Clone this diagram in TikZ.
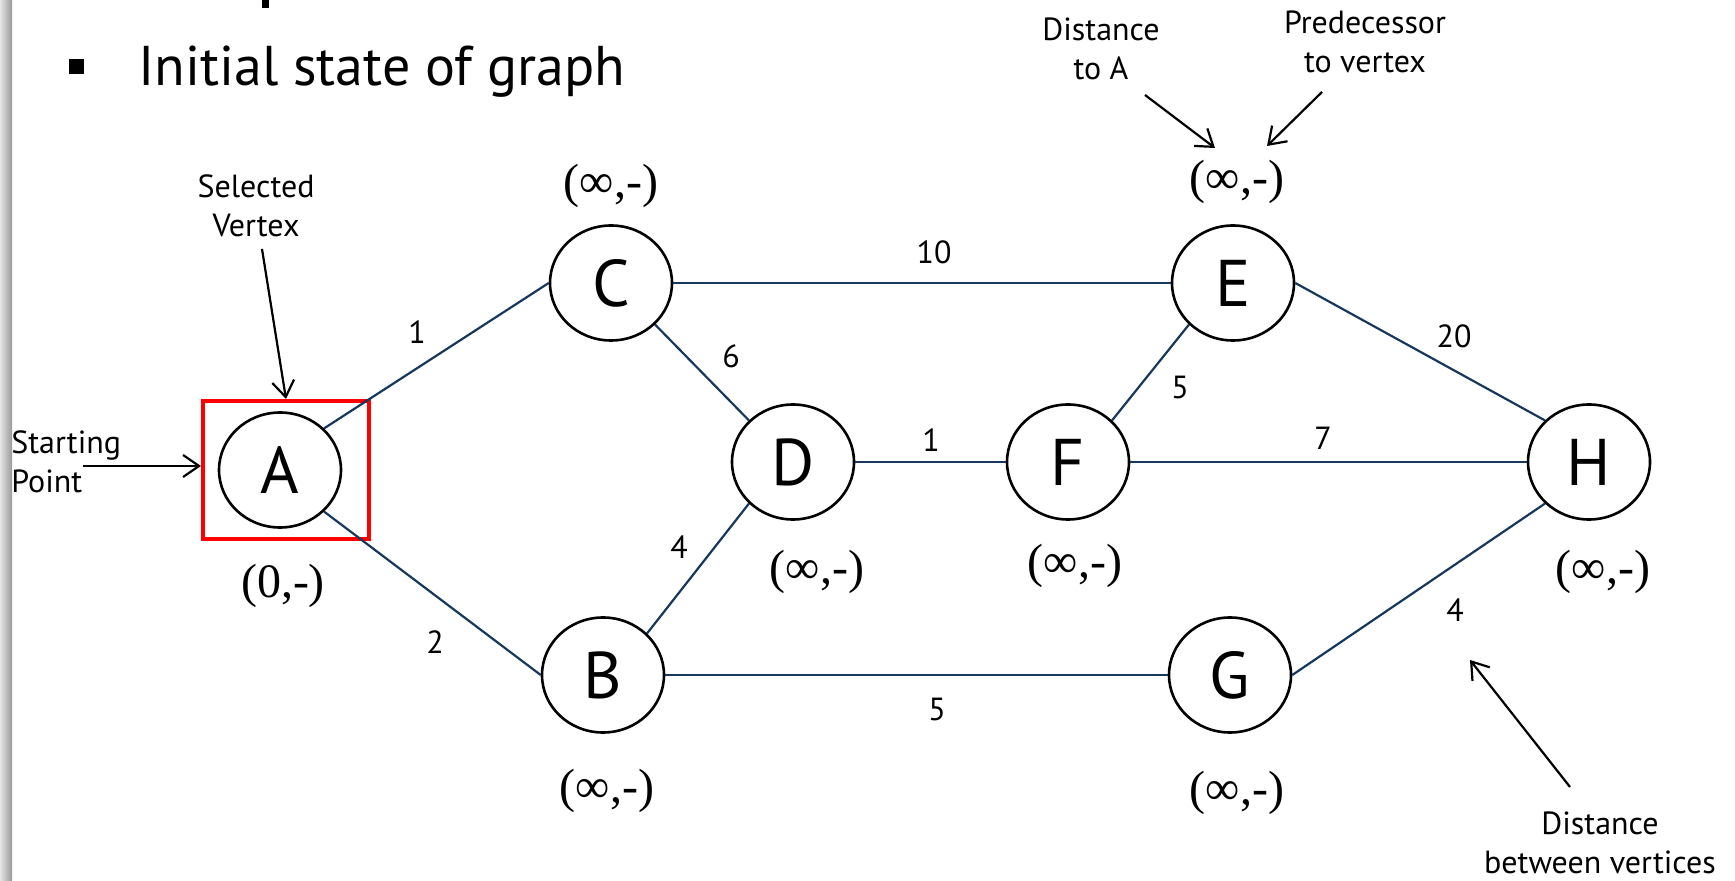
\documentclass[tikz,border=0pt]{standalone}
\usepackage{fontspec}
\setmainfont{PT Sans}
\newfontfamily\lblfont{Liberation Serif}
\usetikzlibrary{shapes.geometric,arrows.meta}
\definecolor{edgeblue}{HTML}{17375E}
\begin{document}
\begin{tikzpicture}[x=0.5pt,y=-0.5pt,
  vertex/.style={draw, line width=1.3pt, ellipse, minimum width=61pt, minimum height=57.5pt, inner sep=0pt, font=\fontsize{33}{40}\selectfont},
  weight/.style={inner sep=0pt, font=\fontsize{16}{19}\selectfont},
  dist/.style={inner sep=0pt, font=\lblfont\fontsize{24}{28}\selectfont},
  note/.style={inner sep=0pt, align=center, font=\fontsize{16}{19.5}\selectfont},
  pointer/.style={line width=1.1pt, -{Straight Barb[length=8pt,width=11pt]}},
  link/.style={edgeblue, line width=1.1pt}]
\useasboundingbox (0,0) rectangle (1735,881);
% left bar
\shade[left color=black!10, right color=black!40] (0,0) rectangle (12,881);
% fragment of cut-off line above
\fill (262,0) rectangle (269,8);
% title
\fill (69,59) rectangle (84,74);
\node[anchor=base west, inner sep=0pt, font=\fontsize{28}{34}\selectfont] (title) at (138,86) {Initial state of graph};

% selection box
\node[draw=red, line width=2pt, minimum width=83pt, minimum height=69pt, inner sep=0pt] (selbox) at (286,470) {};

% vertices
\node[vertex] (A) at (280,470) {A};
\node[vertex] (C) at (611,283) {C};
\node[vertex] (E) at (1233,283) {E};
\node[vertex] (D) at (793,462) {D};
\node[vertex] (F) at (1068,462) {F};
\node[vertex] (H) at (1589,462) {H};
\node[vertex] (B) at (603,675) {B};
\node[vertex] (G) at (1230,675) {G};

% edges
\draw[link] (A.north east) -- (C.west);
\draw[link] (A.south east) -- (B.west);
\draw[link] (C.south east) -- (D.north west);
\draw[link] (B.north east) -- (D.south west);
\draw[link] (C.east) -- (E.west);
\draw[link] (D.east) -- (F.west);
\draw[link] (F.north east) -- (E.south west);
\draw[link] (E.east) -- (H.north west);
\draw[link] (F.east) -- (H.west);
\draw[link] (B.east) -- (G.west);
\draw[link] (G.east) -- (H.south west);

% weights
\node[weight] (wAC) at (417,332) {1};
\node[weight] (wAB) at (435,642) {2};
\node[weight] (wCE) at (934,252) {10};
\node[weight] (wCD) at (731,356) {6};
\node[weight] (wBD) at (679,547) {4};
\node[weight] (wDF) at (931,440) {1};
\node[weight] (wFE) at (1180,387) {5};
\node[weight] (wFH) at (1323,438) {7};
\node[weight] (wEH) at (1454,336) {20};
\node[weight] (wBG) at (937,709) {5};
\node[weight] (wGH) at (1455,610) {4};

% distance labels
\node[dist] (lA) at (283,586) {(0,-)};
\node[dist] (lC) at (611,186) {(∞,-)};
\node[dist] (lE) at (1237,182) {(∞,-)};
\node[dist] (lD) at (817,572) {(∞,-)};
\node[dist] (lF) at (1075,566) {(∞,-)};
\node[dist] (lH) at (1603,572) {(∞,-)};
\node[dist] (lB) at (607,791) {(∞,-)};
\node[dist] (lG) at (1237,793) {(∞,-)};

% annotations
\node[note] (selv) at (256,206) {Selected\\Vertex};
\coordinate (selvtail) at (262,249);
\draw[pointer] (selvtail) -- (selbox.north);

\node[note, align=left, anchor=west] (sp) at (11,462) {Starting\\Point};
\coordinate (sptail) at (83,466);
\draw[pointer] (sptail) -- (selbox.west |- sptail);

\node[note] (dtoa) at (1101,49) {Distance\\to A};
\coordinate (dtail) at (1145,95);
\coordinate (dtip) at (1215,148);
\draw[pointer] (dtail) -- (dtip);

\node[note] (pred) at (1365,42) {Predecessor\\to vertex};
\coordinate (ptail) at (1322,92);
\coordinate (ptip) at (1267,146);
\draw[pointer] (ptail) -- (ptip);

\node[note] (dbv) at (1600,843) {Distance\\between vertices};
\coordinate (btail) at (1570,787);
\coordinate (btip) at (1470,660);
\draw[pointer] (btail) -- (btip);
\end{tikzpicture}
\end{document}
